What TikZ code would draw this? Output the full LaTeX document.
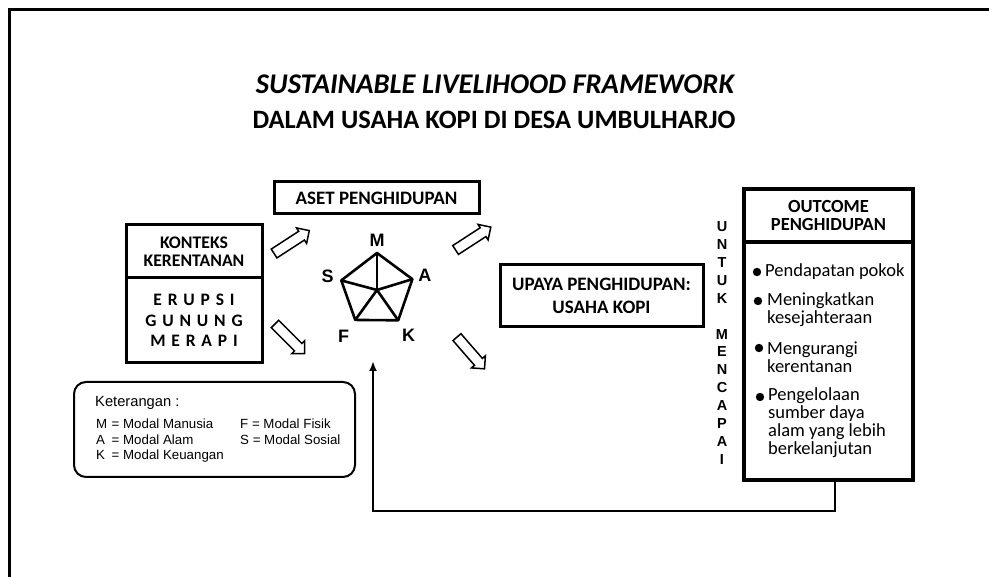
\documentclass[tikz,border=0pt]{standalone}
\usepackage{fontspec}
\setmainfont{Carlito}
\newfontfamily\arialfont{Liberation Sans}
\usetikzlibrary{shapes.arrows,arrows.meta}

\begin{document}
\begin{tikzpicture}[x=1pt,y=-1pt,
    box/.style={draw,line width=3pt,inner sep=0pt,align=center,
      font=\fontsize{17.7}{18.5}\selectfont\bfseries},
    fatarrow/.style={draw,single arrow,single arrow head extend=4pt,
      inner xsep=0pt,inner ysep=4.5pt,minimum height=42pt,line width=1.5pt},
    keynode/.style={anchor=west,inner sep=0pt,
      font=\arialfont\fontsize{13.3}{15}\selectfont},
    outitem/.style={anchor=west,inner sep=0pt,align=left,
      font=\fontsize{18.5}{18}\selectfont}]
      \useasboundingbox (0,0) rectangle (989,577) ;
      \draw[line width=3pt] (989,10) -- (9,10) -- (9,577) ;
      % judul
      \node[font=\fontsize{28.5}{30}\selectfont\bfseries\itshape] (judul1) %
      at (495,84) {SUSTAINABLE LIVELIHOOD FRAMEWORK} ;
      \node[font=\fontsize{26.5}{30}\selectfont\bfseries] (judul2) %
      at (494,120) {DALAM USAHA KOPI DI DESA UMBULHARJO} ;
      % kotak-kotak
      \node[box,minimum width=205pt,minimum height=32pt,font=\fontsize{19}{20}\selectfont\bfseries] %
      (aset) at (376.5,198) {ASET PENGHIDUPAN} ;
      \node[box,minimum width=136pt,minimum height=53pt] (konteks) %
      at (194,251.5) {KONTEKS\\KERENTANAN} ;
      \node[box,minimum width=136pt,minimum height=85pt,font=\fontsize{17.5}{20.5}\selectfont\bfseries] %
      (erupsi) at (194,320.5) {E\,\,R\,\,U\,\,P\,\,S\,\,I\\G\,\,U\,\,N\,\,U\,\,N\,\,G\\M\,\,E\,\,R\,\,A\,\,P\,\,I} ;
      \node[box,minimum width=203pt,minimum height=62pt,font=\fontsize{19}{23}\selectfont\bfseries] %
      (upaya) at (601.5,296) {UPAYA PENGHIDUPAN:\\USAHA KOPI} ;
      \node[box,line width=3.5pt,minimum width=169pt,minimum height=53pt,font=\fontsize{18.5}{18}\selectfont\bfseries] %
      (outcome) at (828.5,215.5) {OUTCOME\\PENGHIDUPAN} ;
      \node[box,line width=3.5pt,minimum width=169pt,minimum height=238pt] (outbody) %
      at (828.5,361) {} ;
      % panah blok
      \node[fatarrow,rotate=33] (pa1) at (289.5,243.5) {} ;
      \node[fatarrow,rotate=-45] (pa2) at (288,337) {} ;
      \node[fatarrow,rotate=33] (pa3) at (471,240) {} ;
      \node[fatarrow,rotate=-49] (pa4) at (469,351) {} ;
      % pentagon aset
      \coordinate (pc) at (377,290) ;
      \foreach \m/\a/\r in {M/-90/50,A/-17/50,K/55/55,F/126/57,S/195/51} {
        \path (pc) ++(\a:37) coordinate (p\m) ;
        \path (pc) ++(\a:\r) node[font=\arialfont\fontsize{18}{18}\selectfont\bfseries] (l\m) {\m} ;
        \draw[line width=2.6pt] (pc) -- (p\m) ;
      }
      \draw[line width=2.6pt,line join=round] (pM) -- (pA) -- (pK) -- (pF) -- (pS) -- cycle ;
      % untuk mencapai
      \node[align=center,inner sep=0pt,font=\arialfont\fontsize{14.5}{17.85}\selectfont\bfseries] %
      (untuk) at (722,343) {U\\N\\T\\U\\K\\\mbox{}\\M\\E\\N\\C\\A\\P\\A\\I} ;
      % outcome
      \node[outitem] (o1) at (765,272) {Pendapatan pokok} ;
      \node[outitem] (o2) at (767,310) {Meningkatkan\\kesejahteraan} ;
      \node[outitem] (o3) at (767,357.5) {Mengurangi\\kerentanan} ;
      \node[outitem] (o4) at (768,423) {Pengelolaan\\sumber daya\\alam yang lebih\\berkelanjutan} ;
      \foreach \x/\y in {757/272,758/301,759/348,760/397}
        \fill (\x,\y) circle (4.2) ;
      % keterangan
      \node[draw,line width=2pt,rounded corners=12pt,minimum width=281pt,minimum height=95pt] %
      (ket) at (214.5,429.5) {} ;
      \node[keynode,font=\arialfont\fontsize{14.7}{16}\selectfont] (ket0) at (95,403) {Keterangan :} ;
      \node[keynode] (ketM) at (96,424) {\makebox[15.5pt][l]{M}= Modal Manusia} ;
      \node[keynode] (ketA) at (96,440) {\makebox[15.5pt][l]{A}= Modal Alam} ;
      \node[keynode] (ketK) at (96,456) {\makebox[15.5pt][l]{K}= Modal Keuangan} ;
      \node[keynode] (ketF) at (240,424) {F = Modal Fisik} ;
      \node[keynode] (ketS) at (240,440) {S = Modal Sosial} ;
      % umpan balik
      \coordinate (fb) at (835,511) ;
      \coordinate (fbtip) at (373,361) ;
      \draw[line width=2pt,-{Latex[length=10pt,width=8pt]}] %
      ([yshift=4pt]outbody.south -| fb) -- (fb) -| (fbtip) ;
    \end{tikzpicture}
\end{document}
